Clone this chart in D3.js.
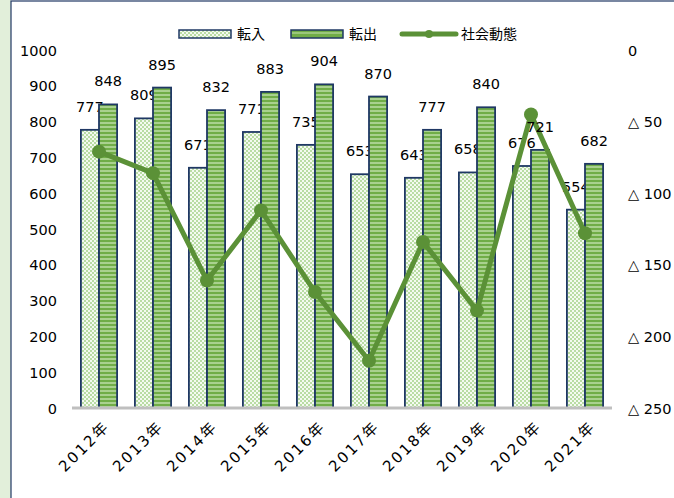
<!DOCTYPE html>
<html>
<head>
<meta charset="utf-8">
<script src="https://cdn.jsdelivr.net/npm/d3@7"></script>
<style>
body { margin: 0; background: #fff; }
text { font-family: "DejaVu Sans", "Noto Sans CJK JP", sans-serif; fill: #000; }
.jp { font-family: "Noto Sans CJK JP", sans-serif; }
</style>
</head>
<body>
<svg id="chart" width="674" height="498"></svg>
<script>
let years = ["2012年", "2013年", "2014年", "2015年", "2016年", "2017年", "2018年", "2019年", "2020年", "2021年"]
let tennyu = [777, 809, 671, 771, 735, 653, 643, 658, 676, 554]
let tenshutsu = [848, 895, 832, 883, 904, 870, 777, 840, 721, 682]
let shakai = [-71, -86, -161, -112, -169, -217, -134, -182, -45, -128]
let leftTicks = [0, 100, 200, 300, 400, 500, 600, 700, 800, 900, 1000]
let rightTicks = [0, -50, -100, -150, -200, -250]

let svg = d3.select("#chart")

// outer frame
svg.append("rect").attr("x", 0).attr("y", 0).attr("width", 11).attr("height", 498).attr("fill", "#e2efda")
svg.append("rect").attr("x", 11).attr("y", 1).attr("width", 700).attr("height", 600)
    .attr("fill", "#fff").attr("stroke", "#203864").attr("stroke-width", 1.2)

let defs = svg.append("defs")
let chk = defs.append("pattern").attr("id", "chk").attr("width", 4).attr("height", 4)
    .attr("patternUnits", "userSpaceOnUse")
chk.append("rect").attr("width", 4).attr("height", 4).attr("fill", "#f4faf0")
chk.append("rect").attr("width", 2).attr("height", 2).attr("fill", "#b9dca4")
chk.append("rect").attr("x", 2).attr("y", 2).attr("width", 2).attr("height", 2).attr("fill", "#b9dca4")
let str = defs.append("pattern").attr("id", "str").attr("width", 4).attr("height", 4)
    .attr("patternUnits", "userSpaceOnUse")
str.append("rect").attr("width", 4).attr("height", 4).attr("fill", "#a9d18e")
str.append("rect").attr("width", 4).attr("height", 2).attr("fill", "#70ad47")

let x = d3.scaleBand().domain(years).range([72, 612]).paddingInner(0.33).paddingOuter(0.165)
let y = d3.scaleLinear().domain([0, 1000]).range([408, 50])
let y2 = d3.scaleLinear().domain([0, -250]).range([50, 408])
let bw = x.bandwidth() / 2

// left axis
let yAxis = d3.axisLeft(y).tickValues(leftTicks).tickSize(0).tickPadding(0).tickFormat(d => d)
let gy = svg.append("g").attr("transform", "translate(57,0)").call(yAxis)
gy.select(".domain").remove()
gy.selectAll("text").attr("font-size", 14.5).attr("font-family", "DejaVu Sans").attr("dy", "0.35em")

// right axis
let yAxis2 = d3.axisRight(y2).tickValues(rightTicks).tickSize(0).tickPadding(0)
    .tickFormat(d => d < 0 ? "△ " + (-d) : d)
let gy2 = svg.append("g").attr("transform", "translate(628,0)").call(yAxis2)
gy2.select(".domain").remove()
gy2.selectAll("text").attr("font-size", 14.5).attr("font-family", "DejaVu Sans").attr("dy", "0.35em")

// bars 転入
svg.selectAll(".b1").data(tennyu).enter().append("rect")
    .attr("x", (d, i) => x(years[i]))
    .attr("y", d => y(d))
    .attr("width", bw)
    .attr("height", d => y(0) - y(d))
    .attr("fill", "url(#chk)").attr("stroke", "#1f3864").attr("stroke-width", 1.8)
svg.selectAll(".l1").data(tennyu).enter().append("text")
    .attr("x", (d, i) => x(years[i]) + bw / 2)
    .attr("y", d => y(d) - 18)
    .attr("text-anchor", "middle").attr("font-size", 14.5)
    .text(d => d)

// bars 転出
svg.selectAll(".b2").data(tenshutsu).enter().append("rect")
    .attr("x", (d, i) => x(years[i]) + bw)
    .attr("y", d => y(d))
    .attr("width", bw)
    .attr("height", d => y(0) - y(d))
    .attr("fill", "url(#str)").attr("stroke", "#1f3864").attr("stroke-width", 1.8)

// baseline
svg.append("line").attr("x1", 72).attr("x2", 612).attr("y1", y(0)).attr("y2", y(0))
    .attr("stroke", "#bfbfbf").attr("stroke-width", 3)

// line 社会動態
let line = d3.line().x((d, i) => x(years[i]) + bw).y(d => y2(d))
svg.append("path").datum(shakai).attr("d", line)
    .attr("fill", "none").attr("stroke", "#5b9137").attr("stroke-width", 5).attr("stroke-linejoin", "round")
svg.selectAll(".pt").data(shakai).enter().append("circle")
    .attr("cx", (d, i) => x(years[i]) + bw).attr("cy", d => y2(d)).attr("r", 7)
    .attr("fill", "#5b9137")

svg.selectAll(".l2").data(tenshutsu).enter().append("text")
    .attr("x", (d, i) => x(years[i]) + bw * 1.5)
    .attr("y", d => y(d) - 18)
    .attr("text-anchor", "middle").attr("font-size", 14.5)
    .text(d => d)

// x labels
svg.selectAll(".xl").data(years).enter().append("text")
    .attr("transform", d => "translate(" + (x(d) + bw + 4) + ",420) rotate(-45)")
    .attr("text-anchor", "end").attr("dy", "0.7em").attr("font-size", 15)
    .attr("letter-spacing", 2.2)
    .text(d => d)

// legend
let lg = svg.append("g")
lg.append("rect").attr("x", 179).attr("y", 30).attr("width", 52).attr("height", 8)
    .attr("fill", "url(#chk)").attr("stroke", "#1f3864").attr("stroke-width", 1.5)
lg.append("text").attr("class", "jp").attr("x", 237).attr("y", 34).attr("dy", "0.35em").attr("font-size", 14).text("転入")
lg.append("rect").attr("x", 291).attr("y", 30).attr("width", 52).attr("height", 8)
    .attr("fill", "#70ad47").attr("stroke", "#1f3864").attr("stroke-width", 1.5)
lg.append("line").attr("x1", 292).attr("x2", 342).attr("y1", 33).attr("y2", 33).attr("stroke", "#a9d18e").attr("stroke-width", 1.5)
lg.append("text").attr("class", "jp").attr("x", 349).attr("y", 34).attr("dy", "0.35em").attr("font-size", 14).text("転出")
lg.append("line").attr("x1", 402).attr("x2", 456).attr("y1", 34).attr("y2", 34)
    .attr("stroke", "#5b9137").attr("stroke-width", 5).attr("stroke-linecap", "round")
lg.append("circle").attr("cx", 429).attr("cy", 34).attr("r", 4).attr("fill", "#5b9137")
lg.append("text").attr("class", "jp").attr("x", 461).attr("y", 34).attr("dy", "0.35em").attr("font-size", 14).text("社会動態")
</script>
</body>
</html>
